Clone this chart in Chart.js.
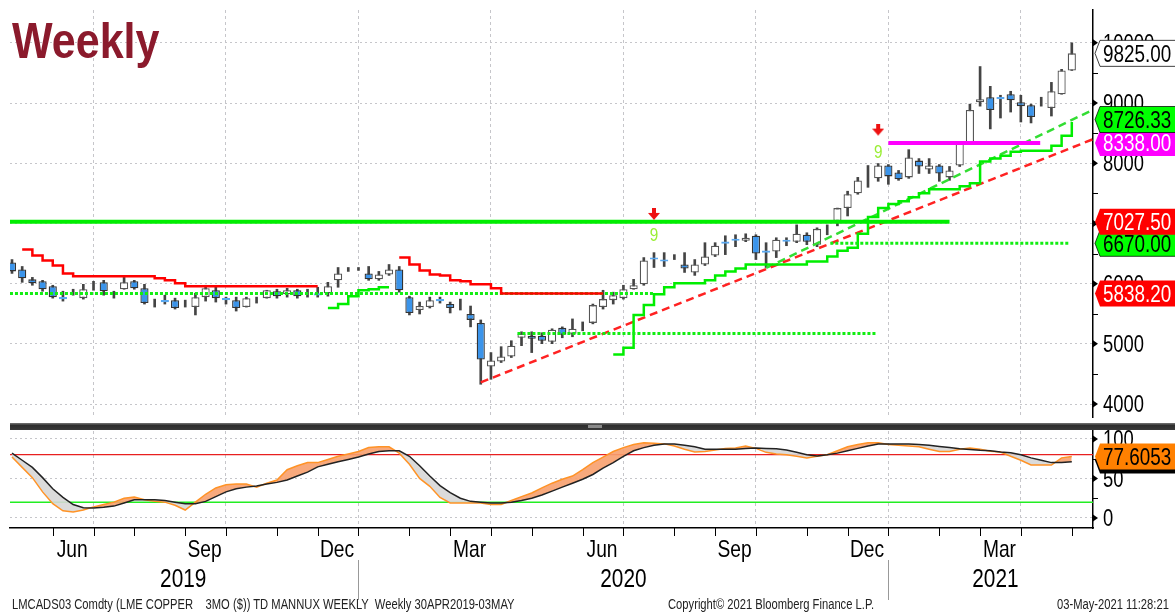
<!DOCTYPE html>
<html>
<head>
<meta charset="utf-8">
<script src="https://cdn.jsdelivr.net/npm/chart.js@4.4.1/dist/chart.umd.min.js"></script>
<style>
  body { margin: 0; background: #fff; }
  #wrap { position: relative; width: 1175px; height: 612px; overflow: hidden; background: #fff; }
  canvas { position: absolute; left: 0; }
  #title { position: absolute; left: 12px; top: 16px; font: bold 50px "Liberation Sans", Arial, sans-serif;
           color: #8b1a2c; transform: scaleX(0.86); transform-origin: 0 0; line-height: 50px; }
  #divider { position: absolute; left: 10px; top: 423px; width: 1165px; height: 7px;
             background: linear-gradient(#777 0, #2e2e2e 35%, #3a3a3a 100%); }
  #handle { position: absolute; left: 588px; top: 425px; width: 14px; height: 3px; background: #8a8a8a; }
  .foot { position: absolute; top: 597px; font: 14px "Liberation Sans", Arial, sans-serif;
          color: #222; white-space: pre; line-height: 15px; transform: scaleX(0.8); transform-origin: 0 0; }
</style>
</head>
<body>
<div id="wrap">
  <canvas id="main" width="1175" height="423" style="top:0"></canvas>
  <canvas id="osc" width="1175" height="182" style="top:430px"></canvas>
  <div id="divider"></div>
  <div id="handle"></div>
  <div id="title">Weekly</div>
  <div class="foot" style="left:12px">LMCADS03 Comdty (LME COPPER    3MO ($)) TD MANNUX WEEKLY  Weekly 30APR2019-03MAY</div>
  <div class="foot" style="left:668px">Copyright© 2021 Bloomberg Finance L.P.</div>
  <div class="foot" style="left:1057px">03-May-2021 11:28:21</div>
</div>
<script>
const FONT = '"Liberation Sans", Arial, sans-serif';

// weekly candles, 03 May 2019 .. 30 Apr 2021 (null open/close = wick only)
const opens = [6351,6236,6071,6039,5956,5759,null,5759,null,6022,
  null,5907,6039,5923,null,5710,5726,null,5611,5776,
  5890,5743,5726,5611,null,5759,5874,5825,5890,null,
  5823,5841,6055,null,null,6170,6071,6153,6236,5776,
  5562,5611,5726,5661,null,5496,5348,4625,4707,4789,
  5101,5134,5134,5036,5266,5167,null,5348,5611,5726,
  5759,5907,5989,6417,6384,null,6318,6186,6318,6466,
  6680,6729,6713,6795,6532,6532,6713,6697,6812,6647,
  null,7041,7255,7502,null,7749,7962,7847,7765,8044,
  7896,7962,7765,7962,8324,9014,9096,9080,9146,9014,
  8965,null,8916,9146,9540];
const highs = [6400,6285,6104,6055,5973,5874,5907,5989,6039,6055,
  5874,6104,6055,5989,5743,5808,5759,5726,5841,5973,
  5956,5776,5776,5776,5776,5890,5907,5923,5907,5907,
  5940,6022,6268,6268,6268,6285,6203,6318,6285,5792,
  5694,5776,5776,5694,5743,5628,5397,4855,4953,5052,
  5200,5200,5184,5250,5282,5414,5364,5661,5890,5858,
  5973,6071,6433,6515,6515,6482,6515,6400,6680,6680,
  6795,6812,6828,6812,6680,6762,6762,6976,6845,6927,
  6976,7255,7535,7765,7962,7995,7978,7880,8225,8077,
  8077,7978,7946,8340,8981,9606,9277,9129,9195,9129,
  8981,9096,9343,9560,10000];
const lows = [6170,6022,5973,5874,5759,5710,5808,5743,5890,5808,
  5759,5907,5907,5661,5611,5661,5578,5611,5480,5710,
  5694,5661,5545,5611,5677,5759,5759,5776,5759,5776,
  5776,5792,5940,6203,6220,6055,6055,6137,5858,5480,
  5496,5595,5677,5513,5562,5282,4329,4411,4690,4773,
  4970,4855,5003,5003,5101,5118,5217,5332,5578,5661,
  5743,5907,5973,6268,6285,6400,6186,6137,6301,6450,
  6482,6614,6697,6400,6268,6433,6630,6680,6647,6614,
  6812,6960,7124,7485,7600,7700,7650,7716,7749,7830,
  7830,7700,7716,7946,8324,8948,8570,8751,8850,8685,
  8669,8948,8784,9146,9540];
const closes = [6203,6088,6006,5907,5776,5759,null,5907,null,5874,
  null,6022,5923,5677,null,5710,5595,null,5776,5923,
  5759,5743,5595,5759,null,5890,5792,5890,5792,null,
  5823,5956,6170,null,null,6071,6153,6236,5890,5513,
  5628,5726,5726,5595,null,5398,4740,4723,4789,4970,
  5167,5085,5052,5233,5151,5250,null,5644,5743,5808,
  5907,5973,6384,6417,6384,null,6252,6318,6450,6630,
  6680,6729,6762,6499,6532,6729,6713,6828,6697,6910,
  null,7255,7485,7715,null,7962,7781,7732,8094,7946,
  7962,7830,7880,8324,8883,9063,8883,9080,9047,8948,
  8768,null,9195,9540,9825];

// TD stop lines (one value per week from the start week)
const redStop1From = 1;
const redStop1 = [6565,6466,6384,6302,6170,6121,6121,6121,6121,6121,6121,6121,6121,6088,6055,6006,
  5956,5956,5956,5956,5956,5956,5956,5956,5956,5956,5956,5956,5956,5956];
const redStop2From = 38;
const redStop2 = [6433,6318,6220,6153,6137,6055,6039,5989,5989,5923,
  5838,5838,5838,5838,5838,5838,5838,5838,5838,5838,5838];
const greenStop1From = 31;
const greenStop1 = [5595,5661,5792,5890,5907,5940,5940];
const greenStop2From = 59;
const greenStop2 = [4822,4937,5480,5644,5825,5940,6006,6006,6006,6055,6137,6203,6252,
  6318,6318,6318,6318,6318,6318,6367,6367,6450,6548,6598,6830,7107,7255,7321,7370,7436,
  7502,7567,7567,7567,7617,7666,8028,8077,8126,8192,8209,8209,8209,8291,8455,8685];

// horizontal levels: [fromWeek, toWeek, value]
const resistLevel = [-0.2, 92.0, 7027.5];
const dotLevelHigh = [80.3, 103.8, 6670];
const dotLevelMid = [-0.2, 63.0, 5838.2];
const dotLevelLow = [49.6, 84.8, 5171];
const magentaLevel = [86.0, 100.9, 8338];

// trend lines: [week, value] end points
const redTrend = [[46, 4360], [106.1, 8400]];
const greenTrend = [[74, 6260], [106.1, 8890]];

// TD sequential signals
const signalWeeks = [63, 85];
const arrowValues = [7150, 8550];
const nineValues = [6810, 8200];

// right-axis price tags
const tagValues = [5838.20, 6670.00, 7027.50, 8338.00, 8726.33, 9825.00];
const tagFills = ['#ff0000', '#00ff00', '#ff0000', '#ff00ff', '#00ff00', '#ffffff'];
const tagInks = ['#ffffff', '#000000', '#ffffff', '#ffffff', '#000000', '#000000'];

// stochastic panel
const fastK = [77,64,51,33,18,9,7.6,10,14,17,
  20,25,26.6,23,21,20,16,10,20,30,
  38,42,43,43,39,44,48,61,66,70,
  70,74,78,81,84,89,90,90,82,68,
  50,40,26,19,19,19,19,17,17,22,
  27,31.6,38,44,49,53,61,70,77,84,
  89,93,95,94.5,93.7,91,87,83.5,84,86,
  88,88.6,91,88,83,81,80,78,76,78,
  80,85,90,93,95,95,93,92,91,90,
  87,84,84,87,88.6,87,84.5,83.5,78,73,
  67,67,67,76,77.6];
const slowD = [82,73,64,51,37,26,17,13,12.6,13.5,
  15,19,23,23,23,22,20,18,18,21,
  27,33,37,39,40.5,43,45,48,53,58,
  64.6,68,71,74,77,81,84,85,85,78,
  66,53,41,32,25,21,20,19,19,20,
  22,25,29,34,39,44,49,55,63,70,
  78,85,89,92,93.5,93.5,92,90,87,87,
  87,87,88,88.6,88,87.5,86,83,80,78.5,
  80,82,85,88,91,93.5,93.7,93.7,93.7,93,
  92,90.5,89,87.5,86.5,85.5,85,83.5,82.5,80,
  76,73,70,70,71];
const oscLast = 77.6053;
const overBought = 80, overSold = 20;

// time axis
const gridWeeks = [8,21,34,47,60,73,86,99];
const monthTickWeeks = [4,8,12,17,21,26,30,34,39,43,47,51,56,60,65,69,73,78,82,86,91,95,99,104];
const monthLabels = ['Jun','Sep','Dec','Mar','Jun','Sep','Dec','Mar'];
const monthLabelWeeks = [5.9,18.9,31.9,44.9,57.9,70.9,83.9,96.9];
const yearLabels = ['2019','2020','2021'];
const yearLabelWeeks = [16.8,60,96.5];
const yearBreakWeeks = [34,86];
const priceTicks = [4000,5000,6000,7000,8000,9000,10000];
const oscTicks = [0,50,100];

const X_MIN = -0.196, X_MAX = 106.08;

const seg = (from, vals) => vals.map((v, j) => ({x: from + j, y: v}));
const level = l => [{x: l[0], y: l[2]}, {x: l[1], y: l[2]}];
const pts = arr => arr.map(p => ({x: p[0], y: p[1]}));

const bodyData = opens.map((o, i) => {
  const c = closes[i];
  if (o === null) return {x: i, y: null};
  if (o === c) return {x: i, y: [o - 18, o + 18]};
  return {x: i, y: [o, c]};
});
const bodyFill = opens.map((o, i) => o === null ? 'rgba(0,0,0,0)' : o === closes[i] ? '#5aa8f0' : closes[i] < o ? '#3b94ea' : '#ffffff');
const bodyLine = opens.map((o, i) => o === null ? 'rgba(0,0,0,0)' : o === closes[i] ? '#5aa8f0' : closes[i] < o ? '#333333' : '#555555');
const wickData = highs.map((h, i) => ({x: i, y: [lows[i], h]}));

const arrowImg = document.createElement('canvas');
arrowImg.width = 12; arrowImg.height = 13;
(() => {
  const c = arrowImg.getContext('2d');
  c.fillStyle = '#ee1111';
  c.fillRect(4, 0, 4, 6);
  c.beginPath(); c.moveTo(0, 5); c.lineTo(12, 5); c.lineTo(6, 12); c.closePath(); c.fill();
})();

// Bloomberg-style condensed text, vertically centred on y (cap height)
function narrowText(ctx, text, x, y, size, align, color, squeeze) {
  ctx.save();
  ctx.font = size + 'px ' + FONT;
  ctx.fillStyle = color; ctx.textAlign = align; ctx.textBaseline = 'alphabetic';
  ctx.translate(x, y + size * 0.358); ctx.scale(squeeze || 0.8, 1);
  ctx.fillText(text, 0, 0);
  ctx.restore();
}

function axisMarks(ctx, scale, right, ticks) {
  ctx.save();
  ctx.fillStyle = '#000'; ctx.strokeStyle = '#000'; ctx.lineWidth = 1;
  ticks.forEach((v, i) => {
    const py = scale.getPixelForValue(v);
    ctx.beginPath(); ctx.moveTo(right, py - 3.5); ctx.lineTo(right + 5, py); ctx.lineTo(right, py + 3.5); ctx.closePath(); ctx.fill();
    if (i < ticks.length - 1) {
      const my = Math.round(scale.getPixelForValue((v + ticks[i + 1]) / 2)) + 0.5;
      ctx.beginPath(); ctx.moveTo(right, my); ctx.lineTo(right + 5, my); ctx.stroke();
    }
    narrowText(ctx, String(v), right + 10, py, 23, 'left', '#000');
  });
  ctx.restore();
}

function drawTag(ctx, cy, text, fill, ink, shadow) {
  const x0 = 1095, h = 26, tip = 5;
  const path = dy => {
    ctx.beginPath();
    ctx.moveTo(x0, cy + dy); ctx.lineTo(x0 + tip, cy - h / 2 + dy); ctx.lineTo(1180, cy - h / 2 + dy);
    ctx.lineTo(1180, cy + h / 2 + dy); ctx.lineTo(x0 + tip, cy + h / 2 + dy); ctx.closePath();
  };
  ctx.save();
  if (shadow) { path(4); ctx.fillStyle = '#000'; ctx.fill(); }
  path(0);
  ctx.fillStyle = fill; ctx.fill();
  if (fill === '#ffffff' || fill === '#00ff00') { ctx.strokeStyle = 'rgba(0,0,0,0.75)'; ctx.lineWidth = 1; ctx.stroke(); }
  ctx.restore();
  narrowText(ctx, text, x0 + 8, cy, 23, 'left', ink, 0.82);
}

const mainDecor = {
  id: 'mainDecor',
  afterDraw(chart) {
    const {ctx, chartArea} = chart;
    const xs = chart.scales.x, ys = chart.scales.y;
    axisMarks(ctx, ys, chartArea.right, priceTicks);
    signalWeeks.forEach((w, i) =>
      narrowText(ctx, '9', xs.getPixelForValue(w), ys.getPixelForValue(nineValues[i]), 18, 'center', '#99ee33', 0.85));
    tagValues.forEach((v, i) => drawTag(ctx, ys.getPixelForValue(v), v.toFixed(2), tagFills[i], tagInks[i], false));
  }
};

const oscDecor = {
  id: 'oscDecor',
  afterDraw(chart) {
    const {ctx, chartArea} = chart;
    const xs = chart.scales.x, ys = chart.scales.y;
    axisMarks(ctx, ys, chartArea.right, oscTicks);
    ctx.save();
    ctx.strokeStyle = '#000'; ctx.lineWidth = 1;
    monthTickWeeks.forEach(w => {
      const px = Math.round(xs.getPixelForValue(w)) + 0.5;
      ctx.beginPath(); ctx.moveTo(px, chartArea.bottom); ctx.lineTo(px, chartArea.bottom + 8); ctx.stroke();
    });
    ctx.strokeStyle = '#999';
    yearBreakWeeks.forEach(w => {
      const px = Math.round(xs.getPixelForValue(w)) + 0.5;
      ctx.beginPath(); ctx.moveTo(px, chartArea.bottom + 32); ctx.lineTo(px, chartArea.bottom + 72); ctx.stroke();
    });
    ctx.restore();
    monthLabels.forEach((t, i) => narrowText(ctx, t, xs.getPixelForValue(monthLabelWeeks[i]), chartArea.bottom + 20, 24, 'center', '#000'));
    yearLabels.forEach((t, i) => narrowText(ctx, t, xs.getPixelForValue(yearLabelWeeks[i]), chartArea.bottom + 50, 26, 'center', '#000'));
    drawTag(ctx, ys.getPixelForValue(oscLast), oscLast.toFixed(4), '#ff8000', '#000000', true);
  }
};

const line = (data, color, width, extra) => Object.assign({
  type: 'line', data, borderColor: color, borderWidth: width, pointRadius: 0, fill: false, order: 1
}, extra || {});

new Chart(document.getElementById('main'), {
  type: 'bar',
  data: {
    datasets: [
      Object.assign(line(signalWeeks.map((w, i) => ({x: w, y: arrowValues[i]})), '#ee1111', 0),
        {showLine: false, pointStyle: arrowImg, pointRadius: 6, order: 0}),
      line(level(magentaLevel), '#ff00ff', 4),
      line(seg(redStop1From, redStop1), '#ff0000', 2.5, {stepped: true}),
      line(seg(redStop2From, redStop2), '#ff0000', 2.5, {stepped: true}),
      line(level(dotLevelMid), '#11ee11', 3, {borderDash: [3, 2]}),
      line(level(dotLevelLow), '#11ee11', 3, {borderDash: [3, 2]}),
      line(level(dotLevelHigh), '#11ee11', 3, {borderDash: [3, 2]}),
      line(level(resistLevel), '#00ee00', 4),
      line(seg(greenStop1From, greenStop1), '#00ee00', 2.5, {stepped: true}),
      line(seg(greenStop2From, greenStop2), '#00ee00', 2.5, {stepped: true}),
      line(pts(redTrend), '#ff2222', 2.5, {borderDash: [8, 5]}),
      line(pts(greenTrend), '#33dd33', 2.5, {borderDash: [8, 5]}),
      {type: 'bar', data: bodyData, backgroundColor: bodyFill, borderColor: bodyLine, borderWidth: 1.3,
       borderSkipped: false, grouped: false, barPercentage: 0.8, categoryPercentage: 1, order: 5},
      {type: 'bar', data: wickData, backgroundColor: '#444444', borderWidth: 0, barThickness: 2,
       grouped: false, order: 6}
    ]
  },
  options: {
    responsive: false, animation: false, events: [],
    layout: {padding: {left: 10, top: 10, right: 0, bottom: 0}},
    plugins: {legend: {display: false}, tooltip: {enabled: false}},
    scales: {
      x: {
        type: 'linear', min: X_MIN, max: X_MAX, offset: false,
        afterFit: s => { s.height = 0; },
        afterBuildTicks: s => { s.ticks = gridWeeks.map(v => ({value: v})); },
        ticks: {display: false},
        grid: {color: '#c6c6ca', drawTicks: false, offset: false},
        border: {display: false, dash: [3, 3]}
      },
      y: {
        position: 'right', min: 3785, max: 10545, beginAtZero: false,
        afterFit: s => { s.width = 82; },
        afterBuildTicks: s => { s.ticks = priceTicks.map(v => ({value: v})); },
        ticks: {display: false},
        grid: {color: '#c6c6ca', drawTicks: false},
        border: {display: true, color: '#000', width: 1.5, dash: [2, 3]}
      }
    }
  },
  plugins: [mainDecor]
});

const weeks = fastK.map((_, i) => i);
new Chart(document.getElementById('osc'), {
  type: 'line',
  data: {
    datasets: [
      {data: weeks.map(i => ({x: i, y: fastK[i]})), borderColor: '#ff9326', borderWidth: 1.5, pointRadius: 0,
       fill: {target: 1, above: 'rgba(247,160,110,0.9)', below: 'rgba(215,215,215,0.9)'}, order: 1},
      {data: weeks.map(i => ({x: i, y: slowD[i]})), borderColor: '#222222', borderWidth: 1.5, pointRadius: 0, fill: false, order: 0},
      {data: [{x: X_MIN, y: overBought}, {x: X_MAX, y: overBought}], borderColor: '#e82020', borderWidth: 1.2, pointRadius: 0, fill: false, order: 2},
      {data: [{x: X_MIN, y: overSold}, {x: X_MAX, y: overSold}], borderColor: '#22ee22', borderWidth: 1.5, pointRadius: 0, fill: false, order: 2}
    ]
  },
  options: {
    responsive: false, animation: false, events: [],
    layout: {padding: {left: 10, top: 1, right: 0, bottom: 84}},
    plugins: {legend: {display: false}, tooltip: {enabled: false}},
    scales: {
      x: {
        type: 'linear', min: X_MIN, max: X_MAX,
        afterFit: s => { s.height = 0; },
        afterBuildTicks: s => { s.ticks = gridWeeks.map(v => ({value: v})); },
        ticks: {display: false},
        grid: {color: '#c6c6ca', drawTicks: false},
        border: {display: true, color: '#000', width: 1.5, dash: [3, 3]}
      },
      y: {
        position: 'right', min: -12.7, max: 110,
        afterFit: s => { s.width = 82; },
        afterBuildTicks: s => { s.ticks = oscTicks.map(v => ({value: v})); },
        ticks: {display: false},
        grid: {color: '#c6c6ca', drawTicks: false},
        border: {display: true, color: '#000', width: 1.5, dash: [2, 3]}
      }
    }
  },
  plugins: [oscDecor]
});
</script>
</body>
</html>
